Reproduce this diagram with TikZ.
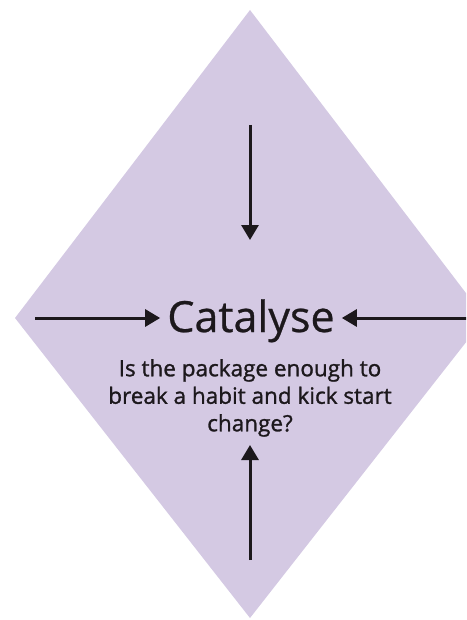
\documentclass[tikz,border=0pt]{standalone}
\usepackage{fontspec}
\setmainfont{Open Sans}
\newfontfamily\subfont{Open Sans}[FakeBold=1.2]
\newfontfamily\titlefont{Open Sans}[FakeBold=0.6]
\usetikzlibrary{arrows.meta}
\definecolor{lav}{RGB}{212,201,227}
\definecolor{ink}{RGB}{28,24,28}
\tikzset{
  pointer/.style={draw=ink, line width=3pt, -{Triangle[width=17pt,length=15pt]}},
  title/.style={inner sep=0pt, anchor=base, font=\titlefont\fontsize{43}{50}\selectfont, text=ink},
  sub/.style={inner sep=0pt, anchor=north, align=center, font=\subfont\fontsize{22.5}{27.5}\selectfont, text=ink}
}
\begin{document}
\begin{tikzpicture}[x=1pt,y=-1pt]
\useasboundingbox (0,0) rectangle (466,620);
\clip (0,0) rectangle (466,620);
\fill[lav] (250,10) -- (485,318) -- (250,618) -- (15,318) -- cycle;
\node[title] (cat) at (251,332) {Catalyse};
\node[sub] (q) at (250,359) {Is the package enough to\\break a habit and kick start\\change?};
\coordinate (topS) at (250,125);
\coordinate (topE) at (250,240);
\coordinate (botS) at (250,560);
\coordinate (botE) at (250,445);
\coordinate (lS) at (35,318);
\coordinate (rS) at (470,318);
\draw[pointer] (topS) -- (topE);
\draw[pointer] (botS) -- (botE);
\draw[pointer] (lS) -- ([xshift=-7pt]cat.west |- lS);
\draw[pointer] (rS) -- ([xshift=7pt]cat.east |- rS);
\end{tikzpicture}
\end{document}
